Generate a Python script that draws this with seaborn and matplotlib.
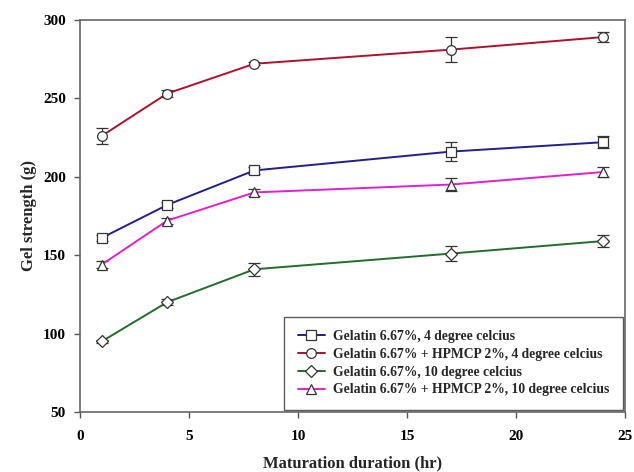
import matplotlib
matplotlib.use("Agg")
import matplotlib.pyplot as plt
import pandas as pd
import seaborn as sns

# maturation time (hr)
hours = [1, 4, 8, 17, 24]

labels = ["Gelatin 6.67%, 4 degree celcius",
          "Gelatin 6.67% + HPMCP 2%, 4 degree celcius",
          "Gelatin 6.67%, 10 degree celcius",
          "Gelatin 6.67% + HPMCP 2%, 10 degree celcius"]

gel_4 = [161, 182, 204, 216, 222]
gel_hp_4 = [226, 253, 272, 281, 289]
gel_10 = [95, 120, 141, 151, 159]
gel_hp_10 = [144, 172, 190, 195, 203]

err_gel_4 = [2, 2, 2, 6, 4]
err_gel_hp_4 = [5, 2, 1, 8, 3]
err_gel_10 = [1, 2, 4, 5, 4]
err_gel_hp_10 = [2, 2, 2, 4, 3]

colors = ["#1f1f8f", "#b0102a", "#1f6e2a", "#e020d0"]
markers = ["s", "o", "D", "^"]
msizes = [7, 7, 6, 7]

sns.set_style("ticks")
plt.rcParams["font.family"] = ["Liberation Serif", "DejaVu Serif"]
plt.rcParams["font.weight"] = "bold"

rows = []
for lab, vals, errs in zip(labels, [gel_4, gel_hp_4, gel_10, gel_hp_10],
                           [err_gel_4, err_gel_hp_4, err_gel_10, err_gel_hp_10]):
    for h, v, e in zip(hours, vals, errs):
        rows.append({"hr": h, "gel": v, "err": e, "group": lab})
df = pd.DataFrame(rows)

fig, ax = plt.subplots(figsize=(6.34, 4.72), dpi=100)
for lab, c, m, ms in zip(labels, colors, markers, msizes):
    d = df[df.group == lab]
    ax.errorbar(d.hr, d.gel, yerr=d.err, fmt="none", ecolor="#333333",
                elinewidth=0.9, capsize=4, capthick=0.9, zorder=2)
    sns.lineplot(data=d, x="hr", y="gel", ax=ax, color=c, lw=1.4,
                 marker=m, markersize=ms, markerfacecolor="white",
                 markeredgecolor="#333333", markeredgewidth=0.9,
                 label=lab, zorder=3)

ax.set_xlim(0, 25)
ax.set_ylim(50, 300)
ax.set_xticks([0, 5, 10, 15, 20, 25])
ax.set_yticks([50, 100, 150, 200, 250, 300])
ax.tick_params(direction="out", length=4, width=1, colors="#555555",
               labelcolor="black", labelsize=11)
ax.tick_params(axis="x", pad=9)
ax.tick_params(axis="y", pad=6)
for s in ax.spines.values():
    s.set_color("#666666")
    s.set_linewidth(1.2)
for t in ax.get_xticklabels() + ax.get_yticklabels():
    t.set_fontweight("bold")

ax.set_xlabel("Maturation duration (hr)", fontsize=12, fontweight="bold", labelpad=9)
ax.set_ylabel("Gel strength (g)", fontsize=12, fontweight="bold", labelpad=4)

leg = ax.legend(loc="lower right", frameon=True, fancybox=False,
                prop={"family": "Liberation Serif", "weight": "bold", "size": 9.8},
                handlelength=2.0, handletextpad=0.6, borderpad=1.0,
                labelspacing=0.35, borderaxespad=0.15, bbox_to_anchor=(1.0, 0.0))
leg.get_frame().set_edgecolor("#333333")
leg.get_frame().set_linewidth(1.0)

fig.subplots_adjust(left=0.126, right=0.986, top=0.958, bottom=0.127)
fig.savefig("out.png", dpi=100)
